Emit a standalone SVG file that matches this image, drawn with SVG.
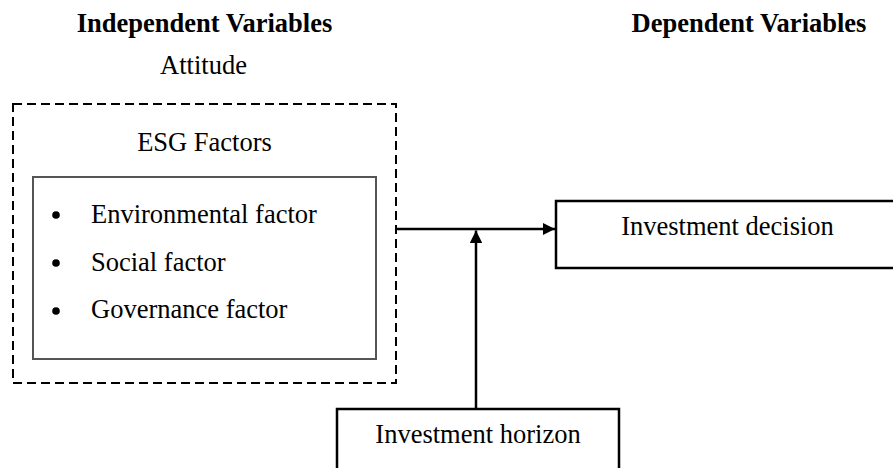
<svg xmlns="http://www.w3.org/2000/svg" width="893" height="468" viewBox="0 0 893 468">
  <defs>
    <style>
      text { font-size: 26.5px; fill: #000; }
      .head { font-weight: bold; }
      .mid { text-anchor: middle; }
      .box { fill: #fff; stroke: #000; stroke-width: 2.5; }
      .group { fill: none; stroke: #000; stroke-width: 2; stroke-dasharray: 9 5; }
      .inner { fill: #fff; stroke: #555; stroke-width: 2; }
      .link { fill: none; stroke: #000; stroke-width: 2.5; }
    </style>
    <marker id="arrow" viewBox="0 0 10 10" refX="10" refY="5" markerWidth="5" markerHeight="5" markerUnits="strokeWidth" orient="auto">
      <path d="M0,0 L10,5 L0,10 Z" fill="#000"/>
    </marker>
  </defs>

  <g font-family="Liberation Serif, Times New Roman, Tinos, DejaVu Serif, serif">
    <!-- column headings -->
    <text class="head mid" x="204.5" y="32">Independent Variables</text>
    <text class="head mid" x="749" y="32">Dependent Variables</text>

    <!-- attitude construct: ESG factors -->
    <g id="attitude">
      <text class="mid" x="203.5" y="74">Attitude</text>
      <rect class="group" x="13" y="104" width="383" height="279"/>
      <text class="mid" x="204.5" y="151">ESG Factors</text>
    </g>

    <g id="esg-factors">
      <rect class="inner" x="33" y="177" width="343" height="182"/>
      <circle cx="56" cy="215" r="3.8"/>
      <text x="91" y="223">Environmental factor</text>
      <circle cx="56" cy="263" r="3.8"/>
      <text x="91" y="271">Social factor</text>
      <circle cx="56" cy="311" r="3.8"/>
      <text x="91" y="318">Governance factor</text>
    </g>

    <g id="investment-decision">
      <rect class="box" x="556" y="201" width="345" height="67"/>
      <text class="mid" x="727.5" y="235">Investment decision</text>
    </g>

    <g id="investment-horizon">
      <rect class="box" x="337" y="409" width="282" height="70"/>
      <text class="mid" x="478" y="443">Investment horizon</text>
    </g>
  </g>

  <!-- connectors -->
  <g id="connectors">
    <line class="link" x1="396" y1="229" x2="555" y2="229" marker-end="url(#arrow)"/>
    <line class="link" x1="476" y1="409" x2="476" y2="230.5" marker-end="url(#arrow)"/>
  </g>
</svg>
